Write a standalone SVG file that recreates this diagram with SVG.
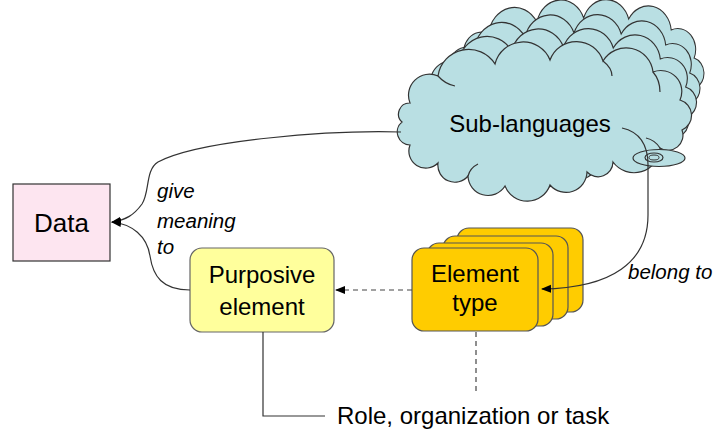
<svg xmlns="http://www.w3.org/2000/svg" width="718" height="430" viewBox="0 0 718 430">
  <defs>
    <style>
      .lbl { font-family: "Liberation Sans", Arial, sans-serif; font-size: 24px; fill: #000; }
      .it { font-family: "Liberation Sans", Arial, sans-serif; font-size: 20.5px; font-style: italic; fill: #000; }
      .cloud { fill: #b9dfe3; stroke: #333; stroke-width: 1.2; }
      .conn { fill: none; stroke: #333; stroke-width: 1.2; }
      .dash { fill: none; stroke: #444; stroke-width: 1.2; stroke-dasharray: 5 4; }
      .card { fill: #ffcc00; stroke: #555; stroke-width: 1.2; }
    </style>
    <marker id="arrow" viewBox="0 0 10 10" refX="9" refY="5" markerWidth="10" markerHeight="10" markerUnits="userSpaceOnUse" orient="auto">
      <path d="M0,1 L10,5 L0,9 Z" fill="#000"/>
    </marker>
    <!-- cloud outline centred on (0,0) -->
    <path id="cloudShape" d="M -131,-20
      A 21 21 0 0 1 -103,-47
      A 31 31 0 0 1 -46,-59
      A 29 29 0 0 1 9,-63
      A 28 28 0 0 1 62,-62
      A 27 27 0 0 1 112,-51
      A 21 21 0 0 1 139,-23
      A 16 16 0 0 1 141,7
      A 15 15 0 0 1 119,25
      A 26 26 0 0 1 72,39
      A 15 15 0 0 1 46,49
      A 21 21 0 0 1 9,62
      A 24 24 0 0 1 -36,63
      A 20 20 0 0 1 -73,53
      A 17 17 0 0 1 -103,40
      A 17 17 0 0 1 -131,22
      A 13 13 0 0 1 -139,-1
      A 11 11 0 0 1 -131,-20 Z"/>
  </defs>

  <!-- Sub-languages: stacked clouds -->
  <g id="sub-languages">
    <use href="#cloudShape" class="cloud" transform="translate(576,81) scale(0.85,1)"/>
    <use href="#cloudShape" class="cloud" transform="translate(566,96) scale(0.89,1)"/>
    <use href="#cloudShape" class="cloud" transform="translate(555,110) scale(0.94,1)"/>
    <use href="#cloudShape" class="cloud" transform="translate(541,123)"/>
    <path class="conn" d="M 438,76 Q 445,84 455,86 M 603,61 Q 612,68 612,76 M 653,72 Q 660,80 660,92 M 660,148 Q 655,140 646,138 M 468,176 Q 470,168 478,164" />
    <ellipse cx="659" cy="158" rx="26" ry="8.5" class="cloud"/>
    <ellipse cx="654" cy="157.5" rx="9" ry="4.5" class="cloud"/>
    <ellipse cx="654" cy="157.5" rx="5" ry="2.5" fill="none" stroke="#333" stroke-width="1"/>
    <text class="lbl" x="530" y="132" text-anchor="middle">Sub-languages</text>
  </g>

  <!-- Data -->
  <g id="data">
    <rect x="13" y="184" width="97" height="77" fill="#fde5f0" stroke="#333" stroke-width="1.2"/>
    <text class="lbl" x="61.5" y="232" text-anchor="middle" style="font-size:26px">Data</text>
  </g>

  <!-- Purposive element -->
  <g id="purposive-element">
    <rect x="190" y="248" width="144" height="84" rx="12" fill="#ffff9c" stroke="#666" stroke-width="1.2"/>
    <text class="lbl" x="262" y="283" text-anchor="middle">Purposive</text>
    <text class="lbl" x="262" y="315" text-anchor="middle">element</text>
  </g>

  <!-- Element type: stacked cards -->
  <g id="element-type">
    <rect class="card" x="457" y="228" width="126" height="84" rx="12"/>
    <rect class="card" x="443" y="236" width="125" height="83" rx="12"/>
    <rect class="card" x="427" y="243" width="126" height="83" rx="12"/>
    <rect class="card" x="412" y="248" width="126" height="83" rx="12"/>
    <text class="lbl" x="475" y="282" text-anchor="middle">Element</text>
    <text class="lbl" x="475" y="311" text-anchor="middle">type</text>
  </g>

  <!-- Role, organization or task -->
  <g id="role">
    <text class="lbl" x="337" y="424">Role, organization or task</text>
  </g>

  <!-- connectors -->
  <g id="connectors">
    <path class="conn" marker-end="url(#arrow)" d="M 401,132 C 330,130 200,140 158,162 C 145,170 150,192 142,204 C 134,215 126,220 112,222"/>
    <path class="conn" marker-end="url(#arrow)" d="M 190,290 C 162,290 153,276 150,256 C 147,236 132,224 112,222"/>
    <path class="conn" marker-end="url(#arrow)" d="M 622,128 C 640,132 648,145 648,165 L 648,215 C 648,262 612,288 542,289"/>
    <path class="dash" marker-end="url(#arrow)" d="M 412,290 L 336,290"/>
    <path class="dash" d="M 476,332 L 476,391"/>
    <path class="conn" d="M 263,332 L 263,416 L 325,416"/>
    <text class="it" x="157" y="198">give</text>
    <text class="it" x="157" y="228">meaning</text>
    <text class="it" x="157" y="254">to</text>
    <text class="it" x="628" y="279">belong to</text>
  </g>
</svg>
